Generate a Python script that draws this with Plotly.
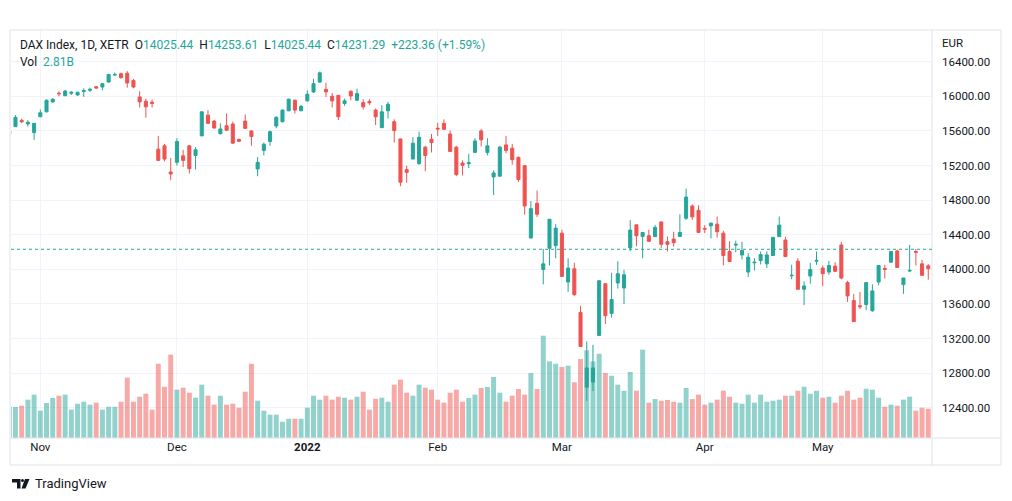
import plotly.graph_objects as go

# ---------------- data ----------------
dates = [
    "2021-10-25", "2021-10-26", "2021-10-27", "2021-10-28", "2021-10-29",
    "2021-11-01", "2021-11-02", "2021-11-03", "2021-11-04", "2021-11-05",
    "2021-11-08", "2021-11-09", "2021-11-10", "2021-11-11", "2021-11-12",
    "2021-11-15", "2021-11-16", "2021-11-17", "2021-11-18", "2021-11-19",
    "2021-11-22", "2021-11-23", "2021-11-24", "2021-11-25", "2021-11-26",
    "2021-11-29", "2021-11-30",
    "2021-12-01", "2021-12-02", "2021-12-03", "2021-12-06", "2021-12-07",
    "2021-12-08", "2021-12-09", "2021-12-10", "2021-12-13", "2021-12-14",
    "2021-12-15", "2021-12-16", "2021-12-17", "2021-12-20", "2021-12-21",
    "2021-12-22", "2021-12-23", "2021-12-27", "2021-12-28", "2021-12-29",
    "2021-12-30",
    "2022-01-03", "2022-01-04", "2022-01-05", "2022-01-06", "2022-01-07",
    "2022-01-10", "2022-01-11", "2022-01-12", "2022-01-13", "2022-01-14",
    "2022-01-17", "2022-01-18", "2022-01-19", "2022-01-20", "2022-01-21",
    "2022-01-24", "2022-01-25", "2022-01-26", "2022-01-27", "2022-01-28",
    "2022-01-31",
    "2022-02-01", "2022-02-02", "2022-02-03", "2022-02-04", "2022-02-07",
    "2022-02-08", "2022-02-09", "2022-02-10", "2022-02-11", "2022-02-14",
    "2022-02-15", "2022-02-16", "2022-02-17", "2022-02-18", "2022-02-21",
    "2022-02-22", "2022-02-23", "2022-02-24", "2022-02-25", "2022-02-28",
    "2022-03-01", "2022-03-02", "2022-03-03", "2022-03-04", "2022-03-07",
    "2022-03-08", "2022-03-09", "2022-03-10", "2022-03-11", "2022-03-14",
    "2022-03-15", "2022-03-16", "2022-03-17", "2022-03-18", "2022-03-21",
    "2022-03-22", "2022-03-23", "2022-03-24", "2022-03-25", "2022-03-28",
    "2022-03-29", "2022-03-30", "2022-03-31",
    "2022-04-01", "2022-04-04", "2022-04-05", "2022-04-06", "2022-04-07",
    "2022-04-08", "2022-04-11", "2022-04-12", "2022-04-13", "2022-04-14",
    "2022-04-19", "2022-04-20", "2022-04-21", "2022-04-22", "2022-04-25",
    "2022-04-26", "2022-04-27", "2022-04-28", "2022-04-29",
    "2022-05-02", "2022-05-03", "2022-05-04", "2022-05-05", "2022-05-06",
    "2022-05-09", "2022-05-10", "2022-05-11", "2022-05-12", "2022-05-13",
    "2022-05-16", "2022-05-17", "2022-05-18", "2022-05-19", "2022-05-20",
    "2022-05-23", "2022-05-24", "2022-05-25", "2022-05-26",
]

opens = [
    15560, 15649, 15722, 15680, 15580,
    15763, 15820, 15935, 16035, 16007, 16035, 16015, 16055, 16070, 16110,
    16107, 16164, 16245, 16260, 16267, 16183, 15992, 15943, 15932, 15389,
    15427, 15125,
    15236, 15312, 15427, 15316, 15542, 15782, 15713, 15568, 15660, 15679,
    15500, 15713, 15599, 15160, 15374, 15477, 15656, 15706, 15832, 15954,
    15832,
    15947, 16050, 16164, 16080, 16000, 16011, 15916, 16057, 15954, 15927,
    15940, 15840, 15637, 15832, 15706, 15507, 15152, 15274, 15221, 15412,
    15503,
    15630, 15687, 15564, 15412, 15228, 15220, 15351, 15599, 15351, 15068,
    15076, 15438, 15400, 15293, 15198, 14361, 14762, 13998, 14243, 14273,
    14418, 13853, 14006, 13502, 12638, 12696, 13234, 13834, 13490, 13842,
    13784, 14247, 14514, 14380, 14388, 14377, 14548, 14319, 14350, 14380,
    14590, 14732, 14682,
    14472, 14503, 14522, 14418, 14205, 14280, 14166, 13968, 14075, 14102,
    14063, 14159, 14377, 14338, 13925, 14094, 13769, 13922, 14094,
    14014, 13968, 14037, 14281, 13846, 13639, 13578, 13593, 13521, 13853,
    14010, 14082, 14212, 13823, 13980, 14205, 14063, 14040, 14025.44,
]

highs = [
    15640, 15782, 15740, 15725, 15690,
    15847, 15965, 15980, 16058, 16075, 16057, 16052, 16092, 16100, 16115,
    16153, 16260, 16275, 16275, 16290, 16202, 16057, 15973, 15962, 15542,
    15450, 15286,
    15515, 15381, 15435, 15412, 15825, 15840, 15725, 15687, 15801, 15706,
    15510, 15790, 15610, 15297, 15465, 15603, 15771, 15847, 15973, 15962,
    15897,
    16069, 16202, 16286, 16157, 16038, 16011, 15973, 16069, 16088, 15966,
    15966, 15859, 15897, 15935, 15733, 15507, 15198, 15526, 15591, 15427,
    15565,
    15694, 15733, 15603, 15427, 15259, 15335, 15515, 15622, 15515, 15144,
    15427, 15542, 15450, 15305, 15198, 14789, 14911, 14235, 14579, 14522,
    14457, 14128, 14075, 13578, 13166, 13127, 13868, 13834, 13960, 14094,
    13995, 14568, 14514, 14426, 14457, 14514, 14548, 14380, 14434, 14636,
    14934, 14751, 14739,
    14510, 14541, 14610, 14445, 14323, 14331, 14319, 14186, 14128, 14205,
    14208, 14369, 14610, 14377, 14052, 14128, 13861, 14075, 14205,
    14044, 14098, 14082, 14319, 13868, 13716, 13739, 13846, 13826, 14044,
    14052, 14212, 14227, 13899, 14281, 14235, 14109, 14060, 14253.61,
]

lows = [
    15530, 15649, 15690, 15650, 15496,
    15760, 15815, 15927, 16000, 16000, 16015, 16005, 15993, 16050, 16085,
    16069, 16160, 16237, 16205, 16099, 16092, 15870, 15752, 15870, 15259,
    15247, 15030,
    15198, 15183, 15106, 15152, 15542, 15680, 15626, 15557, 15599, 15450,
    15470, 15620, 15427, 15076, 15316, 15427, 15629, 15698, 15828, 15801,
    15828,
    15939, 16038, 16157, 15992, 15870, 15725, 15889, 15954, 15954, 15847,
    15900, 15668, 15637, 15744, 15465, 14961, 14999, 15274, 15209, 15133,
    15351,
    15542, 15610, 15362, 15076, 15083, 15171, 15351, 15419, 15316, 14858,
    15076, 15343, 15209, 15011, 14629, 14361, 14605, 13826, 14044, 14128,
    13918, 13739, 13689, 13108, 12478, 12593, 13234, 13368, 13441, 13777,
    13597, 14208, 14266, 14128, 14319, 14377, 14247, 14208, 14262, 14380,
    14571, 14571, 14426,
    14419, 14357, 14365, 14044, 14082, 14197, 14113, 13911, 13987, 14056,
    14014, 14159, 14377, 14147, 13884, 13769, 13586, 13834, 14052,
    13804, 13937, 13968, 13884, 13624, 13395, 13540, 13528, 13509, 13815,
    13892, 14075, 14021, 13716, 13968, 14044, 13930, 13880, 14025.44,
]

closes = [
    15600, 15756, 15705, 15700, 15687,
    15809, 15954, 15965, 16029, 16060, 16046, 16046, 16065, 16080, 16095,
    16145, 16252, 16252, 16214, 16153, 16107, 15935, 15878, 15917, 15259,
    15274, 15102,
    15477, 15259, 15163, 15381, 15820, 15687, 15633, 15622, 15607, 15458,
    15480, 15629, 15534, 15236, 15446, 15591, 15756, 15840, 15966, 15840,
    15885,
    16023, 16145, 16271, 16050, 15947, 15763, 15947, 16004, 16031, 15878,
    15925, 15763, 15820, 15908, 15603, 15007, 15121, 15458, 15526, 15316,
    15465,
    15622, 15618, 15362, 15095, 15202, 15232, 15484, 15496, 15427, 15114,
    15412, 15374, 15267, 15037, 14732, 14701, 14636, 14063, 14579, 14476,
    13918, 14014, 13708, 13108, 12860, 12860, 13868, 13464, 13651, 13949,
    13937, 14453, 14388, 14426, 14323, 14484, 14289, 14289, 14308, 14426,
    14835, 14606, 14426,
    14465, 14533, 14434, 14159, 14090, 14289, 14216, 14140, 14082, 14170,
    14166, 14369, 14510, 14147, 13930, 13769, 13807, 13998, 14102,
    13949, 14044, 13976, 13899, 13693, 13395, 13567, 13846, 13750, 14044,
    13998, 14205, 14021, 13899, 13987, 14197, 13930, 14007.93, 14231.29,
]

volumes_b = [
    3.00, 2.98, 3.10, 3.68, 4.16,
    2.62, 3.36, 3.84, 4.06, 4.16, 2.72, 3.29, 3.48, 3.20, 3.39,
    2.72, 3.00, 3.00, 3.48, 5.79, 3.48, 3.96, 4.25, 2.72, 7.13,
    4.92, 8.00,
    4.64, 4.83, 4.35, 3.87, 5.12, 4.06, 3.20, 4.06, 3.20, 3.29,
    2.91, 4.44, 7.13, 3.58, 2.62, 2.24, 2.24, 1.56, 1.85, 1.85,
    1.85,
    2.91, 4.06, 3.68, 4.06, 3.68, 3.96, 3.87, 3.68, 3.96, 4.44,
    2.72, 3.77, 3.87, 3.48, 5.12, 5.60, 4.35, 4.06, 5.12, 4.83,
    4.64,
    3.68, 3.39, 4.35, 4.64, 3.48, 3.84, 4.16, 4.80, 4.90, 5.86,
    4.35, 3.48, 4.06, 4.70, 4.16, 6.24, 4.70, 9.82, 7.36, 7.13,
    6.82, 6.94, 5.35, 7.58, 8.42, 7.36, 8.09, 6.24, 5.98, 5.12,
    4.54, 6.34, 4.54, 8.48, 3.39, 3.74, 3.58, 3.65, 3.48, 3.39,
    4.80, 3.74, 4.16,
    3.20, 3.39, 3.68, 4.54, 3.96, 3.39, 3.29, 4.16, 3.39, 4.16,
    3.48, 3.58, 3.68, 4.06, 4.06, 4.54, 4.92, 4.25, 4.54,
    3.87, 3.96, 3.39, 4.06, 4.54, 3.68, 3.87, 4.73, 4.64, 3.87,
    3.00, 3.20, 3.10, 3.68, 3.96, 2.62, 2.91, 2.81, 2.81,
]

price_ticks = [12400, 12800, 13200, 13600, 14000, 14400, 14800, 15200, 15600, 16000, 16400]
month_tick_dates = ["2021-11-01", "2021-12-01", "2022-01-03", "2022-02-01",
                    "2022-03-01", "2022-04-01", "2022-05-02"]
month_tick_labels = ["Nov", "Dec", "<b>2022</b>", "Feb", "Mar", "Apr", "May"]
symbol_label = "DAX Index, 1D, XETR"
currency_label = "EUR"
brand_label = "TradingView"

# ---------------- style ----------------
UP = "#26a69a"
DOWN = "#ef5350"
UP_VOL = "rgba(38,166,154,0.5)"
DOWN_VOL = "rgba(239,83,80,0.5)"
TEXT = "#131722"
GRID = "#f0f3fa"
FRAME = "#e0e3eb"
FONT = "Roboto"

W, H = 1012, 501
PL, PR, PT, PB = 11, 932, 30, 438  # plot area in pixels


def fx(x):
    return (x - PL) / (PR - PL)


def fy(y):
    return (PB - y) / (PB - PT)


vol_colors = [UP_VOL if c >= o else DOWN_VOL for o, c in zip(opens, closes)]

fig = go.Figure()
fig.add_trace(go.Bar(
    x=dates, y=volumes_b, marker=dict(color=vol_colors, line=dict(width=0)),
    yaxis="y", xaxis="x", hoverinfo="skip", showlegend=False,
))
fig.add_trace(go.Candlestick(
    x=dates, open=opens, high=highs, low=lows, close=closes,
    increasing=dict(line=dict(color=UP, width=1), fillcolor=UP),
    decreasing=dict(line=dict(color=DOWN, width=1), fillcolor=DOWN),
    whiskerwidth=0, yaxis="y2", xaxis="x", showlegend=False,
))

last_o, last_h, last_l, last_c = opens[-1], highs[-1], lows[-1], closes[-1]
chg = last_c - closes[-2]
pct = chg / closes[-2] * 100
col_last = UP if chg >= 0 else DOWN
sp = "&nbsp;&nbsp;"


def val(v):
    return f"<span style='color:{col_last}'>{v}</span>"


legend_text = (
    f"{symbol_label}{sp}O{val(f'{last_o:.2f}')}{sp}H{val(f'{last_h:.2f}')}"
    f"{sp}L{val(f'{last_l:.2f}')}{sp}C{val(f'{last_c:.2f}')}"
    f"{sp}{val(f'{chg:+.2f} ({pct:+.2f}%)')}"
)
vol_text = f"Vol{sp}{val(f'{volumes_b[-1]:.2f}B')}"

annotations = [
    dict(text=legend_text, x=fx(18), y=fy(45), xref="paper", yref="paper",
         xanchor="left", yanchor="middle", showarrow=False,
         font=dict(family=FONT, size=12, color=TEXT)),
    dict(text=vol_text, x=fx(18), y=fy(62), xref="paper", yref="paper",
         xanchor="left", yanchor="middle", showarrow=False,
         font=dict(family=FONT, size=12, color=TEXT)),
    dict(text=currency_label, x=fx(940), y=fy(43), xref="paper", yref="paper",
         xanchor="left", yanchor="middle", showarrow=False,
         font=dict(family=FONT, size=11.5, color=TEXT)),
    dict(text=brand_label, x=fx(33), y=fy(483), xref="paper", yref="paper",
         xanchor="left", yanchor="middle", showarrow=False,
         font=dict(family=FONT, size=13, color=TEXT)),
]

shapes = [
    # outer frame
    dict(type="rect", xref="paper", yref="paper", x0=fx(10), x1=fx(1001),
         y0=fy(30), y1=fy(465), line=dict(color=FRAME, width=1), layer="above"),
    # price-axis separator
    dict(type="line", xref="paper", yref="paper", x0=fx(932), x1=fx(932),
         y0=fy(30), y1=fy(465), line=dict(color=FRAME, width=1), layer="above"),
    # time-axis separator
    dict(type="line", xref="paper", yref="paper", x0=fx(10), x1=fx(1001),
         y0=fy(438), y1=fy(438), line=dict(color=FRAME, width=1), layer="above"),
    # last price line
    dict(type="line", xref="paper", yref="y2", x0=0, x1=1, y0=last_c, y1=last_c,
         line=dict(color=col_last, width=1, dash="dot"), layer="above"),
    # TradingView logo
    dict(type="path", xref="paper", yref="paper",
         path=(f"M {fx(12)},{fy(479)} L {fx(20.5)},{fy(479)} L {fx(20.5)},{fy(488.5)} "
               f"L {fx(17)},{fy(488.5)} L {fx(17)},{fy(482.5)} L {fx(12)},{fy(482.5)} Z"),
         fillcolor=TEXT, line=dict(width=0)),
    dict(type="circle", xref="paper", yref="paper", x0=fx(21), x1=fx(24),
         y0=fy(479), y1=fy(482), fillcolor=TEXT, line=dict(width=0)),
    dict(type="path", xref="paper", yref="paper",
         path=(f"M {fx(25)},{fy(479)} L {fx(29.5)},{fy(479)} L {fx(25.5)},{fy(488.5)} "
               f"L {fx(21.5)},{fy(488.5)} Z"),
         fillcolor=TEXT, line=dict(width=0)),
]

n_left = 0.28
n_right = 148.6
vol_max = (PB - PT) * 0.096
p_top = 16766
p_bot = 12050

fig.update_layout(
    width=W, height=H,
    margin=dict(l=PL, r=W - PR, t=PT, b=H - PB, pad=0),
    paper_bgcolor="white", plot_bgcolor="white",
    showlegend=False, barmode="overlay", bargap=0.2,
    font=dict(family=FONT, size=12, color=TEXT),
    xaxis=dict(
        type="category", range=[n_left, n_right],
        tickmode="array", tickvals=month_tick_dates, ticktext=month_tick_labels,
        showgrid=True, gridcolor=GRID, gridwidth=1,
        showline=False, zeroline=False, ticks="",
        tickfont=dict(family=FONT, size=11.5, color=TEXT),
        rangeslider=dict(visible=False), fixedrange=True,
    ),
    yaxis=dict(
        range=[0, vol_max], showgrid=False, showticklabels=False,
        zeroline=False, showline=False, fixedrange=True,
    ),
    yaxis2=dict(
        overlaying="y", side="right", range=[p_bot, p_top],
        tickmode="array", tickvals=price_ticks,
        ticktext=[f"{v:.2f}" for v in price_ticks],
        showgrid=True, gridcolor=GRID, gridwidth=1,
        zeroline=False, showline=False, ticks="", ticklabelstandoff=9,
        tickfont=dict(family=FONT, size=11.5, color=TEXT), fixedrange=True,
    ),
    annotations=annotations,
    shapes=shapes,
)

fig.write_html(
    "out.html",
    config={"displayModeBar": False},
    post_script="document.body.style.margin='0';document.body.style.overflow='hidden';",
)
